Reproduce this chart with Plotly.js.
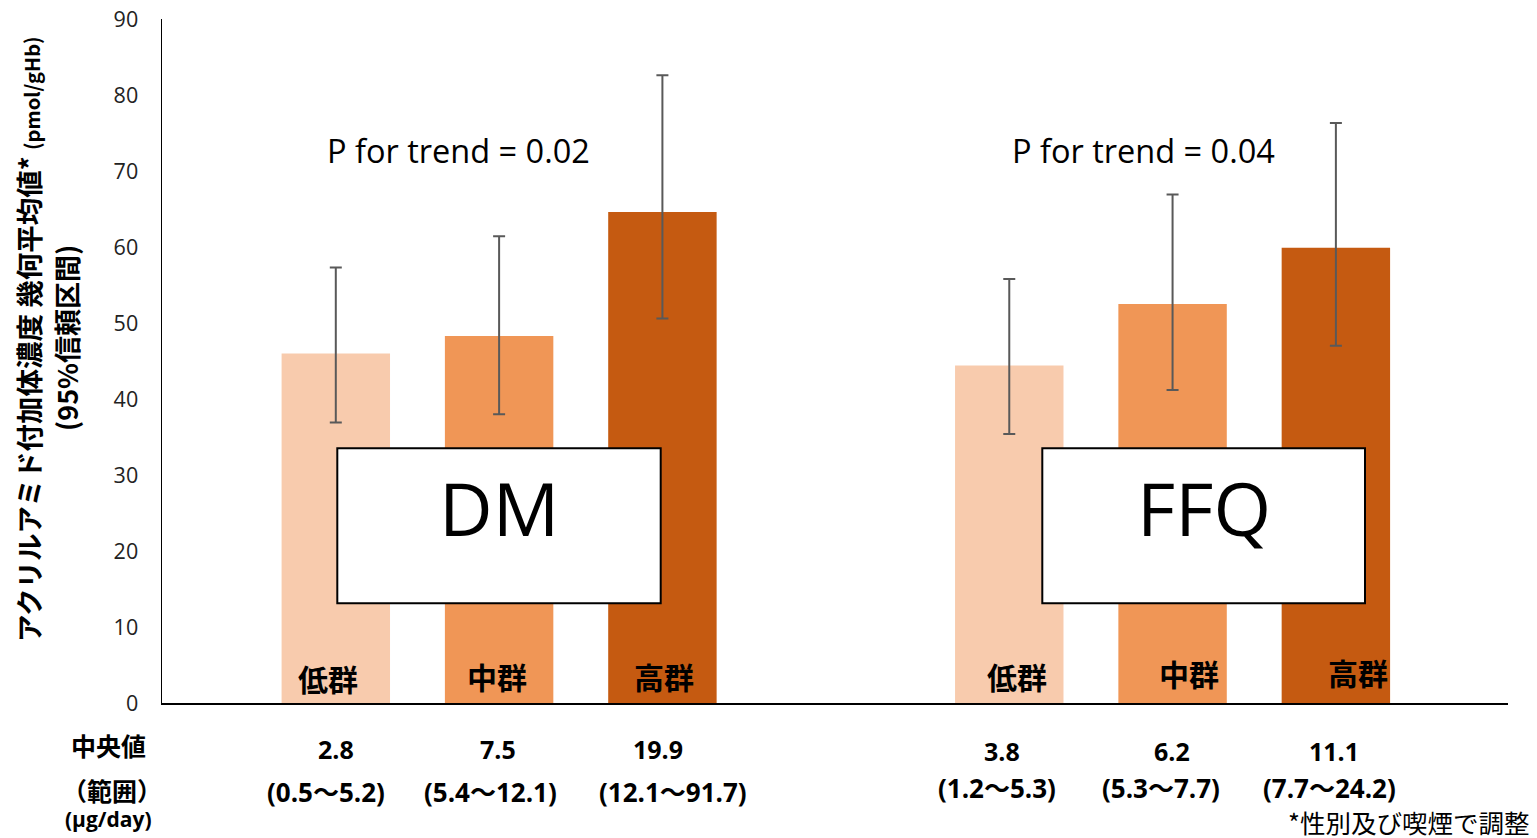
<!DOCTYPE html>
<html><head><meta charset="utf-8">
<script src="https://cdn.plot.ly/plotly-3.0.1.min.js"></script>
<style>html,body{margin:0;padding:0;background:#fff;}#chart{width:1537px;height:838px;}</style>
</head><body><div id="chart"></div>
<script>
// ---- data ----
const groups = ['DM', 'FFQ'];
const levels = ['低群', '中群', '高群'];
const dmMean = [46.0, 48.3, 64.6];
const dmLower = [36.9, 38.0, 50.6];
const dmUpper = [57.3, 61.4, 82.6];
const ffqMean = [44.4, 52.5, 59.9];
const ffqLower = [35.4, 41.2, 47.0];
const ffqUpper = [55.8, 66.9, 76.3];
const dmMedian = ['2.8', '7.5', '19.9'];
const dmRange = ['(0.5〜5.2)', '(5.4〜12.1)', '(12.1〜91.7)'];
const ffqMedian = ['3.8', '6.2', '11.1'];
const ffqRange = ['(1.2〜5.3)', '(5.3〜7.7)', '(7.7〜24.2)'];
const pTrend = ['P for trend = 0.02', 'P for trend = 0.04'];
const yTicks = [0, 10, 20, 30, 40, 50, 60, 70, 80, 90];
const rowLabels = ['中央値', '（範囲）', '(μg/day)'];
const yTitle1 = 'アクリルアミド付加体濃度 幾何平均値* <span style="font-size:20px">(pmol/gHb)</span>';
const yTitle2 = '(95%信頼区間)';
const footnote = '*性別及び喫煙で調整';

// ---- styles / layout helpers ----
const colors = ['#F8CBAD', '#F09656', '#C55A11'];
const LATIN = "'Open Sans', 'Noto Sans CJK JP', sans-serif";
const JP = "'Noto Sans CJK JP', sans-serif";
const L = 162, R = 1508, T = 19, B = 703;
const W = R - L, H = B - T;
const px = p => (p - L) / W;
const py = p => (B - p) / H;
const groupStart = [0, 4.124];
const xRange = [-1.0643, 7.178];

const xs = [], ys = [], ep = [], em = [], cs = [];
const means = [dmMean, ffqMean], lows = [dmLower, ffqLower], ups = [dmUpper, ffqUpper];
groups.forEach((g, gi) => {
  levels.forEach((lv, li) => {
    xs.push(groupStart[gi] + li);
    ys.push(means[gi][li]);
    ep.push(+(ups[gi][li] - means[gi][li]).toFixed(2));
    em.push(+(means[gi][li] - lows[gi][li]).toFixed(2));
    cs.push(colors[li]);
  });
});

const trace = {
  type: 'bar', x: xs, y: ys, width: 0.664,
  marker: {color: cs, line: {width: 0}},
  error_y: {type: 'data', symmetric: false, array: ep, arrayminus: em,
            color: '#595959', thickness: 2, width: 6},
  hoverinfo: 'skip'
};

const ann = [];
const lvShift = [[-8, -2, 2], [8, 16, 22]];
const lvY = [[678, 676, 676], [676, 673, 672]];
const medShift = [[0, -1, -4], [-7, -1, -2]];
const medY = [749, 751];
const rngShift = [[-10, -9, 11], [-12, -12, -6]];
const rngY = [792, 788];
const medians = [dmMedian, ffqMedian], ranges = [dmRange, ffqRange];
groups.forEach((g, gi) => {
  levels.forEach((lv, li) => {
    const x = groupStart[gi] + li;
    ann.push({xref: 'x', yref: 'paper', x: x, y: py(lvY[gi][li]), xshift: lvShift[gi][li],
      text: lv, showarrow: false, xanchor: 'center', yanchor: 'middle',
      font: {family: JP, size: 30, color: '#000', weight: 'bold'}});
    ann.push({xref: 'x', yref: 'paper', x: x, y: py(medY[gi]), xshift: medShift[gi][li],
      text: medians[gi][li], showarrow: false, xanchor: 'center', yanchor: 'middle',
      font: {family: LATIN, size: 25, color: '#000', weight: 'bold'}});
    ann.push({xref: 'x', yref: 'paper', x: x, y: py(rngY[gi]), xshift: rngShift[gi][li],
      text: ranges[gi][li], showarrow: false, xanchor: 'center', yanchor: 'middle',
      font: {family: LATIN, size: 26, color: '#000', weight: 'bold'}});
  });
});
// P for trend
const pX = [458, 1143];
pTrend.forEach((t, i) => ann.push({xref: 'paper', yref: 'paper', x: px(pX[i]), y: py(150),
  text: t, showarrow: false, xanchor: 'center', yanchor: 'middle',
  font: {family: LATIN, size: 32.5, color: '#000'}}));
// boxes
const boxX = [[337.3, 660.7], [1042.3, 1365]];
const shapes = boxX.map(b => ({type: 'rect', xref: 'paper', yref: 'paper',
  x0: px(b[0]), x1: px(b[1]), y0: py(603.3), y1: py(448.3),
  line: {color: '#000', width: 2}, fillcolor: '#fff', layer: 'above'}));
groups.forEach((g, i) => ann.push({xref: 'paper', yref: 'paper',
  x: px((boxX[i][0] + boxX[i][1]) / 2), y: py(507), text: g, showarrow: false,
  xanchor: 'center', yanchor: 'middle', font: {family: LATIN, size: 74, color: '#000'}}));
// row labels
const rowY = [745, 790, 819];
const rowX = [108, 112, 108];
const rowSize = [25, 25, 21];
rowLabels.forEach((t, i) => ann.push({xref: 'paper', yref: 'paper', x: px(rowX[i]), y: py(rowY[i]),
  text: t, showarrow: false, xanchor: 'center', yanchor: 'middle',
  font: {family: i === 2 ? LATIN : JP, size: rowSize[i], color: '#000', weight: 'bold'}}));
// y-axis title (two lines)
ann.push({xref: 'paper', yref: 'paper', x: px(28), y: py(339), text: yTitle1, textangle: -90,
  showarrow: false, xanchor: 'center', yanchor: 'middle',
  font: {family: JP, size: 27.5, color: '#000', weight: 'bold'}});
ann.push({xref: 'paper', yref: 'paper', x: px(66), y: py(338), text: yTitle2, textangle: -90,
  showarrow: false, xanchor: 'center', yanchor: 'middle',
  font: {family: JP, size: 27, color: '#000', weight: 'bold'}});
// footnote
ann.push({xref: 'paper', yref: 'paper', x: px(1530), y: py(821), text: footnote,
  showarrow: false, xanchor: 'right', yanchor: 'middle', borderpad: 0,
  font: {family: JP, size: 25.5, color: '#000'}});

const layout = {
  width: 1537, height: 838,
  margin: {l: L, r: 1537 - R, t: T, b: 838 - B, pad: 0},
  paper_bgcolor: '#fff', plot_bgcolor: '#fff',
  showlegend: false, barmode: 'overlay',
  xaxis: {range: xRange, showline: true, linecolor: '#000', linewidth: 1.5,
          showticklabels: false, ticks: '', showgrid: false, zeroline: false, fixedrange: true},
  yaxis: {range: [0, 90], tickvals: yTicks, showline: true, linecolor: '#000', linewidth: 1.5,
          ticks: '', showgrid: false, zeroline: false, fixedrange: true, ticklabelstandoff: 18,
          tickfont: {family: LATIN, size: 21.5, color: '#222'}},
  shapes: shapes,
  annotations: ann
};
Plotly.newPlot('chart', [trace], layout, {displayModeBar: false, staticPlot: true});
</script>
</body></html>
